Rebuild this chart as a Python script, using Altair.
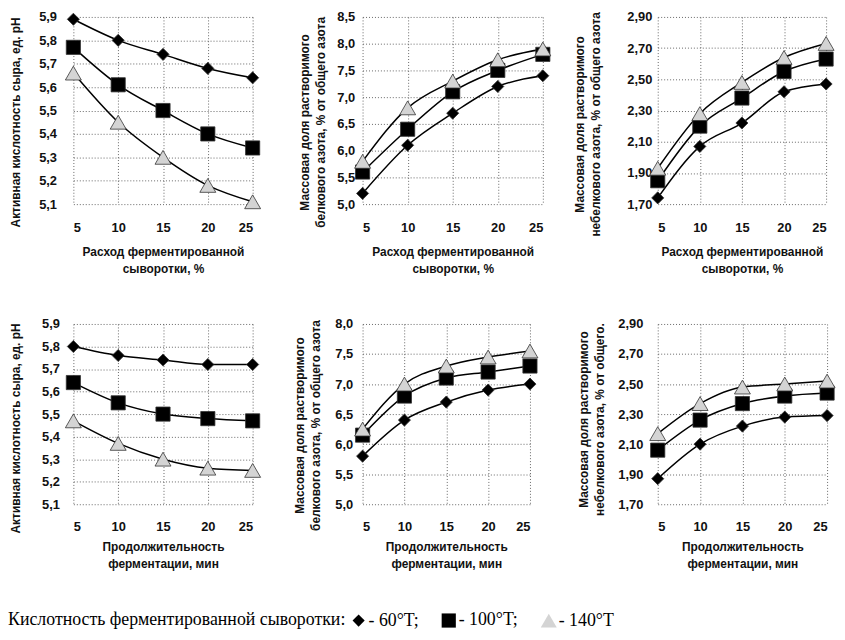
import altair as alt
import pandas as pd

x_vals = [5, 10, 15, 20, 25]
series = ["- 60°T;", "- 100°T;", "- 140°T"]

# Row 1: x = Расход ферментированной сыворотки, %
ph_dose_60 = [5.89, 5.80, 5.74, 5.68, 5.64]
ph_dose_100 = [5.77, 5.61, 5.50, 5.40, 5.34]
ph_dose_140 = [5.66, 5.45, 5.30, 5.18, 5.11]

prot_dose_60 = [5.2, 6.1, 6.7, 7.2, 7.4]
prot_dose_100 = [5.6, 6.4, 7.1, 7.5, 7.8]
prot_dose_140 = [5.8, 6.8, 7.3, 7.7, 7.9]

npn_dose_60 = [1.74, 2.07, 2.22, 2.42, 2.47]
npn_dose_100 = [1.85, 2.20, 2.38, 2.55, 2.63]
npn_dose_140 = [1.93, 2.28, 2.48, 2.64, 2.73]

# Row 2: x = Продолжительность ферментации, мин
ph_time_60 = [5.80, 5.76, 5.74, 5.72, 5.72]
ph_time_100 = [5.64, 5.55, 5.50, 5.48, 5.47]
ph_time_140 = [5.47, 5.37, 5.30, 5.26, 5.25]

prot_time_60 = [5.8, 6.4, 6.7, 6.9, 7.0]
prot_time_100 = [6.15, 6.8, 7.1, 7.2, 7.3]
prot_time_140 = [6.25, 7.0, 7.3, 7.45, 7.55]

npn_time_60 = [1.87, 2.10, 2.22, 2.28, 2.29]
npn_time_100 = [2.06, 2.26, 2.37, 2.42, 2.44]
npn_time_140 = [2.17, 2.37, 2.48, 2.50, 2.52]

ph_ticks = [5.1, 5.2, 5.3, 5.4, 5.5, 5.6, 5.7, 5.8, 5.9]
prot_dose_ticks = [5.0, 5.5, 6.0, 6.5, 7.0, 7.5, 8.0, 8.5]
prot_time_ticks = [5.0, 5.5, 6.0, 6.5, 7.0, 7.5, 8.0]
npn_ticks = [1.70, 1.90, 2.10, 2.30, 2.50, 2.70, 2.90]

title_ph = "Активная кислотность сыра, ед. рН"
title_prot = ["Массовая доля растворимого", "белкового азота, % от общего азота"]
title_npn = ["Массовая доля растворимого", "небелкового азота, % от общего азота"]
title_npn2 = ["Массовая доля растворимого", "небелкового азота, % от общего."]
xtitle_dose = ["Расход ферментированной", "сыворотки, %"]
xtitle_time = ["Продолжительность", "ферментации, мин"]
legend_title = "Кислотность ферментированной сыворотки:"

shape_scale = alt.Scale(domain=series, range=["diamond", "square", "triangle-up"])
fill_scale = alt.Scale(domain=series, range=["black", "black", "#d4d4d4"])
size_scale = alt.Scale(domain=series, range=[150, 260, 90])


def panel(v60, v100, v140, ydom, yticks, dec, ytitle, xtitle, w, h,
          ylab_pad, ytitle_pad, xlab_pad, xtitle_pad, ytitle_y):
    rows = []
    for s, vals in zip(series, [v60, v100, v140]):
        for xv, yv in zip(x_vals, vals):
            rows.append({"x": xv, "y": yv, "s": s})
    df = pd.DataFrame(rows)
    base = alt.Chart(df).encode(
        x=alt.X("x:Q", scale=alt.Scale(domain=[5, 25], nice=False, zero=False),
                axis=alt.Axis(values=x_vals, title=xtitle, format="d",
                              labelPadding=xlab_pad, titlePadding=xtitle_pad)),
        y=alt.Y("y:Q", scale=alt.Scale(domain=ydom, nice=False, zero=False),
                axis=alt.Axis(values=yticks, title=ytitle,
                              labelExpr=f"replace(format(datum.value, '.{dec}f'), '.', ',')",
                              labelPadding=ylab_pad, titlePadding=ytitle_pad,
                              titleY=ytitle_y)),
    )
    lines = base.mark_line(color="black", strokeWidth=1.5, interpolate="monotone").encode(
        detail="s:N")
    pts = base.mark_point(filled=True, stroke="#333333", strokeWidth=0.8, opacity=1).encode(
        shape=alt.Shape("s:N", scale=shape_scale, title=legend_title),
        fill=alt.Fill("s:N", scale=fill_scale, title=legend_title),
        size=alt.Size("s:N", scale=size_scale, title=legend_title),
    )
    return alt.layer(lines, pts).properties(width=w, height=h)


def spacer(w, h):
    return alt.Chart(pd.DataFrame({"a": [0]})).mark_point(opacity=0).encode(
        x=alt.X("a:Q", axis=None), y=alt.Y("a:Q", axis=None)
    ).properties(width=w, height=h)


H1, H2 = 189, 182
p1 = panel(ph_dose_60, ph_dose_100, ph_dose_140, [5.1, 5.9], ph_ticks, 1, title_ph, xtitle_dose,
           181, H1, 17, 16, 18, 12, 106)
p2 = panel(prot_dose_60, prot_dose_100, prot_dose_140, [5.0, 8.5], prot_dose_ticks, 1, title_prot,
           xtitle_dose, 182, H1, 8, 9, 18, 12, 106)
p3 = panel(npn_dose_60, npn_dose_100, npn_dose_140, [1.70, 2.90], npn_ticks, 2, title_npn,
           xtitle_dose, 170, H1, 6, 24, 18, 12, 108)
p4 = panel(ph_time_60, ph_time_100, ph_time_140, [5.1, 5.9], ph_ticks, 1, title_ph, xtitle_time,
           181, H2, 14, 19, 17, 8, 105)
p5 = panel(prot_time_60, prot_time_100, prot_time_140, [5.0, 8.0], prot_time_ticks, 1, title_prot,
           xtitle_time, 169, H2, 10, 12, 17, 8, 102)
p6 = panel(npn_time_60, npn_time_100, npn_time_140, [1.70, 2.90], npn_ticks, 2, title_npn2,
           xtitle_time, 171, H2, 15, 11, 17, 8, 96)

chart = alt.concat(
    p1, spacer(111, H1), p2, spacer(116, H1), p3,
    p4, spacer(111, H2), p5, spacer(116, H2), p6,
    columns=5, spacing=alt.RowColnumber(row=121, column=0), bounds="flush",
).properties(
    padding=0
).configure_view(stroke=None).configure_axis(
    grid=True, gridColor="#666666", gridDash=[1, 2], gridWidth=1,
    domain=False, ticks=False, tickSize=0,
    labelFont="Liberation Sans", labelFontSize=13, labelFontWeight="bold", labelColor="#111111",
    titleFont="Liberation Sans", titleFontSize=12, titleFontWeight="bold", titleColor="#111111",
    titleLineHeight=17,
).configure_legend(
    orient="none", legendX=-66, legendY=600, direction="horizontal",
    titleOrient="left", titleFont="Liberation Serif", titleFontSize=18, titleFontWeight="normal",
    titleColor="black", titlePadding=4, titleBaseline="middle", titleLimit=0,
    labelFont="Liberation Serif", labelFontSize=18, labelColor="black", labelOffset=1,
    symbolStrokeColor="#333333", symbolStrokeWidth=1, columnPadding=20,
    labelLimit=0,
)

chart.save("out.html", embed_options={"renderer": "svg", "actions": False})
